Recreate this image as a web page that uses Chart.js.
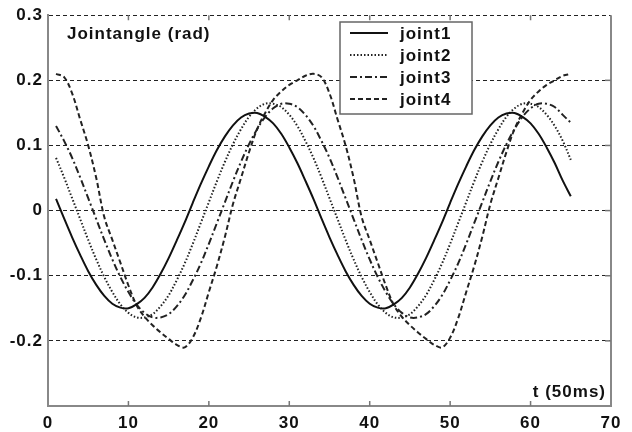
<!DOCTYPE html>
<html>
<head>
<meta charset="utf-8">
<title>Jointangle</title>
<script src="https://cdn.jsdelivr.net/npm/chart.js@4.4.1/dist/chart.umd.min.js"></script>
<style>
  html, body { margin: 0; padding: 0; background: #fff; }
  #wrap { width: 632px; height: 432px; }
</style>
</head>
<body>
<div id="wrap"><canvas id="jointChart" width="632" height="432"></canvas></div>
<script>
// samples, t in units of 50ms
const timeSteps = [
  1, 2, 3, 4, 5, 6, 7, 8, 9, 10, 11, 12, 13, 14, 15, 16, 17, 18, 19, 20, 21, 22,
  23, 24, 25, 26, 27, 28, 29, 30, 31, 32, 33, 34, 35, 36, 37, 38, 39, 40, 41, 42, 43,
  44, 45, 46, 47, 48, 49, 50, 51, 52, 53, 54, 55, 56, 57, 58, 59, 60, 61, 62, 63, 64, 65
];

// joint angles (rad)
const joint1 = [
  0.018, -0.012, -0.041, -0.068, -0.093, -0.114, -0.131, -0.143, -0.149, -0.150, -0.144,
  -0.134, -0.118, -0.097, -0.073, -0.046, -0.018, 0.012, 0.041, 0.068, 0.093, 0.114,
  0.131, 0.143, 0.149, 0.150, 0.144, 0.134, 0.118, 0.097, 0.073, 0.046,
  0.018, -0.012, -0.041, -0.068, -0.093, -0.114, -0.131, -0.143, -0.149, -0.150, -0.144,
  -0.134, -0.118, -0.097, -0.073, -0.046, -0.018, 0.012, 0.041, 0.068, 0.093, 0.114,
  0.131, 0.143, 0.149, 0.150, 0.144, 0.134, 0.118, 0.097, 0.073, 0.046, 0.022
];
const joint2 = [
  0.081, 0.051, 0.019, -0.013, -0.045, -0.075, -0.102, -0.125, -0.144, -0.157, -0.164,
  -0.164, -0.159, -0.147, -0.130, -0.107, -0.081, -0.051, -0.019, 0.013, 0.045, 0.075,
  0.102, 0.125, 0.144, 0.157, 0.164, 0.164, 0.159, 0.147, 0.130, 0.107,
  0.081, 0.051, 0.019, -0.013, -0.045, -0.075, -0.102, -0.125, -0.144, -0.157, -0.164,
  -0.164, -0.159, -0.147, -0.130, -0.107, -0.081, -0.051, -0.019, 0.013, 0.045, 0.075,
  0.102, 0.125, 0.144, 0.157, 0.164, 0.164, 0.159, 0.147, 0.130, 0.107, 0.078
];
const joint3 = [
  0.130, 0.107, 0.081, 0.051, 0.019, -0.013, -0.045, -0.075, -0.102, -0.125, -0.144,
  -0.157, -0.164, -0.164, -0.159, -0.147, -0.130, -0.107, -0.081, -0.051, -0.019, 0.013,
  0.045, 0.075, 0.102, 0.125, 0.144, 0.157, 0.164, 0.164, 0.159, 0.147,
  0.130, 0.107, 0.081, 0.051, 0.019, -0.013, -0.045, -0.075, -0.102, -0.125, -0.144,
  -0.157, -0.164, -0.164, -0.159, -0.147, -0.130, -0.107, -0.081, -0.051, -0.019, 0.013,
  0.045, 0.075, 0.102, 0.125, 0.144, 0.157, 0.164, 0.164, 0.159, 0.147, 0.135
];
const joint4 = [
  0.210, 0.205, 0.180, 0.140, 0.100, 0.050, -0.010, -0.045, -0.080, -0.115, -0.145,
  -0.163, -0.176, -0.187, -0.197, -0.206, -0.210, -0.195, -0.165, -0.125, -0.085, -0.040,
  0.010, 0.050, 0.090, 0.125, 0.150, 0.170, 0.183, 0.193, 0.200, 0.207,
  0.210, 0.205, 0.180, 0.140, 0.100, 0.050, -0.010, -0.045, -0.080, -0.115, -0.145,
  -0.163, -0.176, -0.187, -0.197, -0.206, -0.210, -0.195, -0.165, -0.125, -0.085, -0.040,
  0.010, 0.050, 0.090, 0.125, 0.150, 0.170, 0.183, 0.193, 0.200, 0.207, 0.210
];

const seriesNames = ["joint1", "joint2", "joint3", "joint4"];
const xTicks = [0, 10, 20, 30, 40, 50, 60, 70];
const yTicks = [-0.3, -0.2, -0.1, 0, 0.1, 0.2, 0.3];

const FONT = '"Liberation Sans", Arial, sans-serif';
const INK = "#111";

function points(values) {
  return timeSteps.map((t, i) => ({ x: t, y: values[i] }));
}

// frame, inward ticks, in-plot labels and the boxed legend
const decorations = {
  id: "decorations",
  beforeDraw(chart) {
    chart.ctx.letterSpacing = "1px";
  },
  afterDraw(chart) {
    const ctx = chart.ctx;
    const { left, right, top, bottom } = chart.chartArea;
    const xs = chart.scales.x, ys = chart.scales.y;
    ctx.save();

    // right edge
    ctx.strokeStyle = "#888";
    ctx.lineWidth = 2;
    ctx.beginPath();
    ctx.moveTo(right, top);
    ctx.lineTo(right, bottom + 1);
    ctx.stroke();

    // small inward ticks
    ctx.lineWidth = 1.5;
    ctx.strokeStyle = "#777";
    xTicks.slice(1, -1).forEach(v => {
      const px = xs.getPixelForValue(v);
      ctx.beginPath();
      ctx.moveTo(px, bottom); ctx.lineTo(px, bottom - 5);
      ctx.moveTo(px, top); ctx.lineTo(px, top + 5);
      ctx.stroke();
    });
    yTicks.slice(1, -1).forEach(v => {
      const py = ys.getPixelForValue(v);
      ctx.beginPath();
      ctx.moveTo(right, py); ctx.lineTo(right - 6, py);
      ctx.stroke();
    });

    // labels inside the plot
    ctx.fillStyle = INK;
    ctx.font = "bold 17px " + FONT;
    ctx.letterSpacing = "1px";
    ctx.textBaseline = "middle";
    ctx.textAlign = "left";
    ctx.fillText("Jointangle (rad)", left + 19, top + 19);
    ctx.textAlign = "right";
    ctx.fillText("t (50ms)", right - 5, bottom - 14);

    // legend box
    const box = { x: 340, y: 22, w: 132, h: 92 };
    ctx.fillStyle = "#fff";
    ctx.fillRect(box.x, box.y, box.w, box.h);
    ctx.strokeStyle = "#666";
    ctx.lineWidth = 1.5;
    ctx.strokeRect(box.x, box.y, box.w, box.h);
    chart.data.datasets.forEach((ds, i) => {
      const y = box.y + 11 + i * 22;
      ctx.save();
      ctx.strokeStyle = ds.borderColor;
      ctx.lineWidth = ds.borderWidth;
      ctx.setLineDash(ds.borderDash || []);
      ctx.beginPath();
      ctx.moveTo(box.x + 10, y);
      ctx.lineTo(box.x + 48, y);
      ctx.stroke();
      ctx.restore();
      ctx.fillStyle = INK;
      ctx.textAlign = "left";
      ctx.fillText(ds.label, box.x + 60, y + 1);
    });

    ctx.restore();
  }
};

const lineStyles = [
  { color: "#111", dash: [] },
  { color: "#222", dash: [1.5, 2] },
  { color: "#222", dash: [7, 3, 2, 3] },
  { color: "#222", dash: [5, 3] }
];

const ctx = document.getElementById("jointChart").getContext("2d");
new Chart(ctx, {
  type: "line",
  data: {
    datasets: [joint1, joint2, joint3, joint4].map((vals, i) => ({
      label: seriesNames[i],
      data: points(vals),
      borderColor: lineStyles[i].color,
      borderDash: lineStyles[i].dash,
      borderWidth: 2,
      pointRadius: 0,
      tension: 0.35,
      fill: false
    }))
  },
  options: {
    responsive: false,
    animation: false,
    devicePixelRatio: 1,
    layout: { padding: { top: 13, right: 21, left: 0, bottom: 0 } },
    plugins: {
      legend: { display: false },
      tooltip: { enabled: false }
    },
    scales: {
      x: {
        type: "linear",
        min: 0,
        max: 70,
        afterBuildTicks: s => { s.ticks = xTicks.map(v => ({ value: v })); },
        ticks: {
          color: INK,
          padding: 7,
          font: { family: FONT, size: 17, weight: "bold" }
        },
        grid: { display: false, drawTicks: false },
        border: { display: true, color: "#888", width: 2 },
        afterFit: s => { s.height = 26; }
      },
      y: {
        min: -0.3,
        max: 0.3,
        afterBuildTicks: s => { s.ticks = yTicks.map(v => ({ value: v })); },
        ticks: {
          color: INK,
          padding: 5,
          font: { family: FONT, size: 17, weight: "bold" },
          callback: v => (Math.abs(v + 0.3) < 1e-9 ? "" : String(Math.round(v * 10) / 10))
        },
        grid: {
          drawTicks: false,
          lineWidth: 1,
          color: c => (c.tick && Math.abs(c.tick.value + 0.3) < 1e-9 ? "rgba(0,0,0,0)" : "#222")
        },
        border: { display: true, color: "#888", width: 2, dash: [4, 3] },
        afterFit: s => { s.width = 48; }
      }
    }
  },
  plugins: [decorations]
});
</script>
</body>
</html>
